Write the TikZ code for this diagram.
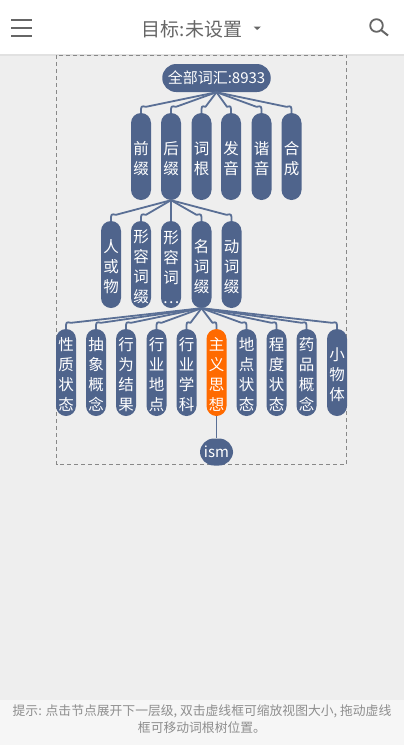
\documentclass[tikz,border=0pt]{standalone}
\usepackage{fontspec}
\setmainfont{Noto Sans CJK SC}
\usetikzlibrary{calc}
\definecolor{pillblue}{HTML}{4F648C}
\definecolor{linkblue}{HTML}{5A6F95}
\definecolor{pillorange}{HTML}{FF6A00}
\definecolor{pagebg}{HTML}{EEEEEE}
\definecolor{hintbg}{HTML}{F6F6F6}
\definecolor{hdrgray}{HTML}{666666}
\definecolor{hintgray}{HTML}{8E8E8E}
\definecolor{dashgray}{HTML}{888888}
\newcommand{\tallfirst}{\rule{0pt}{17.5pt}}
\tikzset{
  pill/.style={fill=pillblue,text=white,rounded corners=10pt,minimum width=20pt,minimum height=87pt,
    inner sep=0pt,font=\fontsize{15.5}{20}\selectfont,align=center},
  hot/.style={pill,fill=pillorange},
  rootpill/.style={fill=pillblue,text=white,rounded corners=14pt,inner sep=0pt,font=\fontsize{15}{20}\selectfont},
  link/.style={draw=linkblue,line width=1.8pt,line join=round},
}
\newcommand{\conn}[4]{\draw[link] (#1.south) -- ($(#2.north)+(#3,#4)$) .. controls ($(#2.north)+(0,#4-1)$) .. (#2.north);}
\begin{document}
\begin{tikzpicture}[x=1pt,y=-1pt]
\useasboundingbox (0,0) rectangle (404,745);
\fill[pagebg] (0,0) rectangle (404,745);
% top bar
\fill[white] (0,0) rectangle (404,54);
\fill[black,opacity=.05] (0,54) rectangle (404,56);
\draw[hdrgray,line width=2.5pt] (11,20) -- (32,20) (11,28) -- (32,28) (11,36) -- (32,36);
\node[text=hdrgray,font=\fontsize{19}{20}\selectfont,inner sep=0pt] (title) at (192,29) {目标:未设置};
\fill[hdrgray] (253.5,26.5) -- (261,26.5) -- (257.2,30) -- cycle;
\draw[hdrgray,line width=1.8pt] (376.5,25.5) circle (6.3pt);
\draw[hdrgray,line width=2pt] (381,30) -- (388,35.5);
% dashed frame
\draw[dashgray,dashed,dash pattern=on 4pt off 3pt,line width=.7pt] (56.5,55) rectangle (346.5,464.5);
% hint bar
\fill[hintbg] (0,700) rectangle (404,745);
\node[text=hintgray,font=\fontsize{12.8}{17}\selectfont,align=center,inner sep=0pt] (hint) at (202,719)
  {提示: 点击节点展开下一层级, 双击虚线框可缩放视图大小, 拖动虚线\\框可移动词根树位置。};
% nodes
\node[rootpill,minimum width=108.5pt,minimum height=28pt] (root) at (216.5,78) {全部词汇:8933};
\foreach \n/\x/\t in {a1/141/前\\缀,a2/171/后\\缀,a3/201.5/词\\根,a4/231/发\\音,a5/261.5/谐\\音,a6/291.5/合\\成}
  {\node[pill] (\n) at (\x,156.5) {\tallfirst\t};}
\foreach \n/\x/\t in {b1/111/人\\或\\物,b2/141/形\\容\\词\\缀,b3/171/形\\容\\词\\…,b4/201.5/名\\词\\缀,b5/231.5/动\\词\\缀}
  {\node[pill] (\n) at (\x,264.5) {\tallfirst\t};}
\foreach \n/\x/\t in {c1/66/性\\质\\状\\态,c2/96/抽\\象\\概\\念,c3/126/行\\为\\结\\果,c4/156.5/行\\业\\地\\点,c5/186.5/行\\业\\学\\科,c7/246.5/地\\点\\状\\态,c8/276.5/程\\度\\状\\态,c9/306.5/药\\品\\概\\念,c10/337/小\\物\\体}
  {\node[pill] (\n) at (\x,372.5) {\tallfirst\t};}
\node[hot] (c6) at (216.5,372.5) {\tallfirst 主\\义\\思\\想};
\node[rootpill,minimum width=33pt,minimum height=27pt] (ism) at (216.5,452) {ism};
% connectors
\foreach \c/\d in {a1/5,a2/5,a3/4}{\conn{root}{\c}{\d}{-6}}
\foreach \c/\d in {a4/-4,a5/-5,a6/-5}{\conn{root}{\c}{\d}{-6}}
\foreach \c/\d in {b1/5,b2/5}{\conn{a2}{\c}{\d}{-6}}
\draw[link] (a2.south) -- (b3.north);
\foreach \c/\d in {b4/-5,b5/-5}{\conn{a2}{\c}{\d}{-6}}
\foreach \c/\d in {c1/5,c2/5,c3/5,c4/5,c5/4}{\conn{b4}{\c}{\d}{-6}}
\foreach \c/\d in {c6/-4,c7/-5,c8/-5,c9/-5,c10/-5}{\conn{b4}{\c}{\d}{-6}}
\draw[link] (c6.south) -- (ism.north);
\end{tikzpicture}
\end{document}
